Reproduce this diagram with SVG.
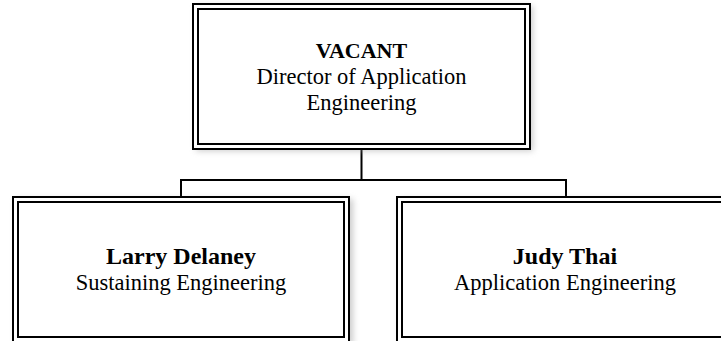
<svg xmlns="http://www.w3.org/2000/svg" width="721" height="341" viewBox="0 0 721 341">
<style>
.outer{fill:#fff;stroke:#000;stroke-width:2}
.inner{fill:none;stroke:#000;stroke-width:2}
.conn{fill:none;stroke:#000;stroke-width:2}
.shadow{fill:#999;opacity:0.5}
text{font-family:"Liberation Serif","Times New Roman",serif;fill:#000;text-anchor:middle}
.name{font-weight:bold;font-size:24px}
.role{font-size:22.5px}
</style>
<defs>
<filter id="sh" x="-10%" y="-10%" width="120%" height="120%">
<feGaussianBlur stdDeviation="3"/>
</filter>
</defs>
<rect width="721" height="341" fill="#fff"/>
<g id="connectors">
<path class="conn" d="M361.5 149 V180 M181 180 H566 M181 179 V197 M566 179 V197"/>
</g>
<g id="node-vacant">
<rect class="shadow" x="196" y="6" width="337" height="145" filter="url(#sh)"/>
<rect class="outer" x="193" y="4" width="337" height="145"/>
<rect class="inner" x="198" y="9" width="327" height="135"/>
<text class="name" x="361.5" y="58" style="font-size:22px">VACANT</text>
<text class="role" x="361.5" y="84">Director of Application</text>
<text class="role" x="361.5" y="110">Engineering</text>
</g>
<g id="node-larry">
<rect class="shadow" x="16" y="199" width="337" height="146" filter="url(#sh)"/>
<rect class="outer" x="13" y="197" width="336" height="146"/>
<rect class="inner" x="18" y="202" width="326" height="135"/>
<text class="name" x="181" y="264">Larry Delaney</text>
<text class="role" x="181" y="290">Sustaining Engineering</text>
</g>
<g id="node-judy">
<rect class="shadow" x="400" y="199" width="337" height="146" filter="url(#sh)"/>
<rect class="outer" x="397" y="197" width="337" height="146"/>
<rect class="inner" x="402" y="202" width="327" height="135"/>
<text class="name" x="565" y="264">Judy Thai</text>
<text class="role" x="565" y="290">Application Engineering</text>
</g>
</svg>
